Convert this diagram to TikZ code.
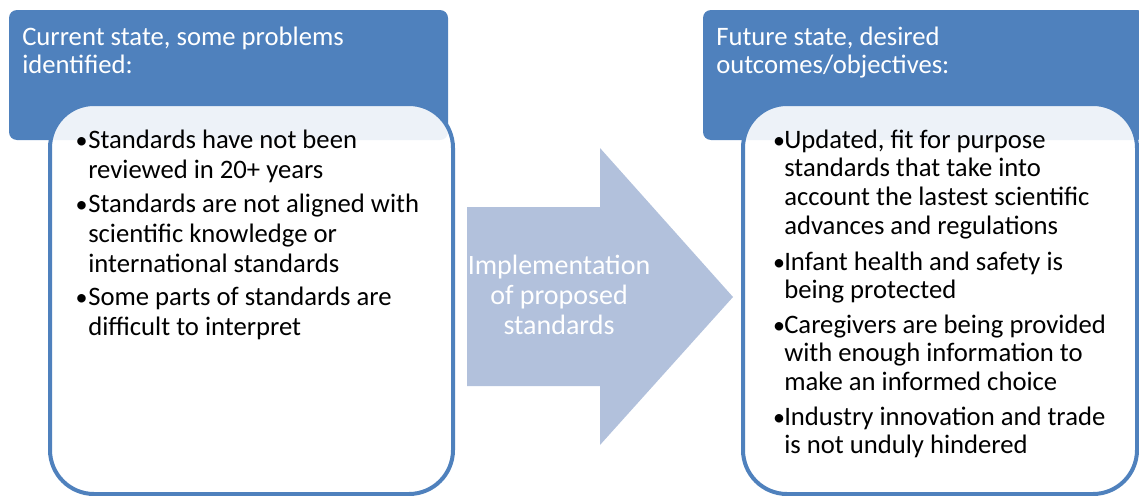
\documentclass[tikz,border=0pt]{standalone}
\usepackage{fontspec}
\setmainfont{Carlito}
\definecolor{hdrblue}{HTML}{4F81BD}
\definecolor{arrowblue}{HTML}{B2C1DC}
\newcommand\leftlines[1]{\vtop{\halign{##\hfil\cr #1\crcr}}}
\newcommand\midlines[1]{\vtop{\halign{\hfil##\hfil\cr #1\crcr}}}
\begin{document}
\begin{tikzpicture}[x=0.75pt,y=-0.75pt,
  hdr/.style={fill=hdrblue},
  card/.style={draw=hdrblue,line width=3pt,fill=white,fill opacity=0.9,rounded corners=33pt},
  hdrtext/.style={anchor=base west,inner sep=0pt,text=white,font=\fontsize{20}{21.5}\selectfont},
  ltext/.style={anchor=base west,inner sep=0pt,font=\fontsize{20}{22.5}\selectfont},
  rtext/.style={anchor=base west,inner sep=0pt,font=\fontsize{20}{21.5}\selectfont},
  bul/.style={anchor=base,inner sep=0pt,font=\fontsize{18}{20}\selectfont},
  arrtext/.style={anchor=base,inner sep=0pt,text=white,font=\fontsize{21}{22.5}\selectfont}]
\useasboundingbox (0,0) rectangle (1139,496);
% headers
\fill[hdr,rounded corners=6pt] (9,10) rectangle (448,140);
\fill[hdr,rounded corners=6pt] (703,10) rectangle (1145,140);
% cards
\draw[card] (50,104) rectangle (453,494);
\draw[card] (743,104) rectangle (1137,494);
% arrow
\fill[arrowblue] (467,207) -- (600,207) -- (600,148) -- (733,297) -- (600,445) -- (600,386) -- (467,386) -- cycle;
% header texts
\node[hdrtext] (h1) at (22,45) {\leftlines{Current state, some problems\cr identified:}};
\node[hdrtext] (h2) at (716,45) {\leftlines{Future state, desired\cr outcomes/objectives:}};
% arrow text
\node[arrtext] (imp) at (559,274) {\midlines{Implementation\cr of proposed\cr standards}};
% left items
\node[bul] (lb1) at (81.5,148) {•};
\node[ltext] (l1) at (88,148) {\leftlines{Standards have not been\cr reviewed in 20+ years}};
\node[bul] (lb2) at (81.5,212) {•};
\node[ltext] (l2) at (88,212) {\leftlines{Standards are not aligned with\cr scientific knowledge or\cr international standards}};
\node[bul] (lb3) at (81.5,305) {•};
\node[ltext] (l3) at (88,305) {\leftlines{Some parts of standards are\cr difficult to interpret}};
% right items
\node[bul] (rb1) at (779,148) {•};
\node[rtext] (r1) at (784,148) {\leftlines{Updated, fit for purpose\cr standards that take into\cr account the lastest scientific\cr advances and regulations}};
\node[bul] (rb2) at (779,270) {•};
\node[rtext] (r2) at (784,270) {\leftlines{Infant health and safety is\cr being protected}};
\node[bul] (rb3) at (779,333) {•};
\node[rtext] (r3) at (784,333) {\leftlines{Caregivers are being provided\cr with enough information to\cr make an informed choice}};
\node[bul] (rb4) at (779,425) {•};
\node[rtext] (r4) at (784,425) {\leftlines{Industry innovation and trade\cr is not unduly hindered}};
\end{tikzpicture}
\end{document}
